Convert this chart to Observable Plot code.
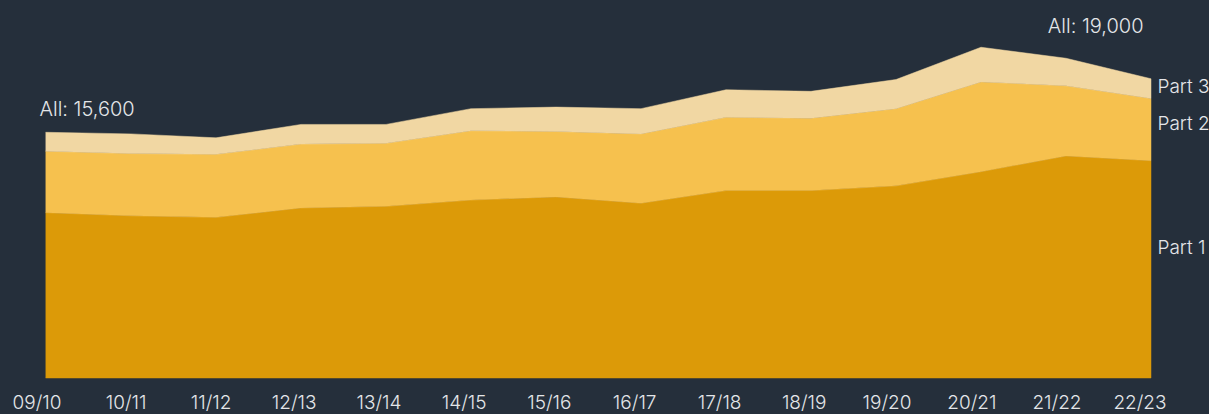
<!DOCTYPE html>
<html><head><meta charset="utf-8">
<script src="https://cdn.jsdelivr.net/npm/d3@7"></script>
<script src="https://cdn.jsdelivr.net/npm/@observablehq/plot@0.6"></script>
<style>
html,body{margin:0;padding:0;background:#252f3b;overflow:hidden;}
#chart svg{display:block;}
</style></head><body><div id="chart"></div>
<script>
const years = ["09/10","10/11","11/12","12/13","13/14","14/15","15/16","16/17","17/18","18/19","19/20","20/21","21/22","22/23"];
const part1 = [10500,10300,10200,10800,10900,11300,11500,11100,11900,11900,12200,13100,14100,13800];
const part2 = [3900,3950,4000,4050,4000,4400,4150,4400,4650,4600,4900,5700,4450,3950];
const part3 = [1200,1250,1050,1250,1200,1400,1550,1600,1750,1700,1850,2200,1750,1250];
const seriesNames = ["Part 1","Part 2","Part 3"];
const colors = ["#dc9a08","#f6c14e","#f1d7a3"];

const parts = [part1, part2, part3];
const rows = [];
years.forEach((yr, i) => parts.forEach((arr, j) => rows.push({year: yr, part: seriesNames[j], value: arr[i]})));
const totals = years.map((yr, i) => ({year: yr, total: part1[i] + part2[i] + part3[i]}));
const first = totals[0];
const last = totals[totals.length - 1];
const maxTotal = d3.max(totals, d => d.total);

const li = years.length - 1;
let base = 0;
const endLabels = seriesNames.map((n, j) => {
  const v = parts[j][li];
  const r = {year: years[li], part: n, y: base + 0.6 * v};
  base += v;
  return r;
});
const fmt = d3.format(",");

const chart = Plot.plot({
  width: 1209,
  height: 414,
  marginLeft: 45,
  marginRight: 58,
  marginTop: 0,
  marginBottom: 36,
  style: {background: "#252f3b", color: "#e4e6e9", fontFamily: "Inter, 'Open Sans', sans-serif", fontSize: "19px", fontWeight: 300},
  x: {type: "point", domain: years, padding: 0, label: null},
  y: {domain: [0, 24000], axis: null},
  color: {domain: seriesNames, range: colors},
  marks: [
    Plot.areaY(rows, {x: "year", y: "value", fill: "part", z: "part", stroke: "part", strokeWidth: 0.5}),
    Plot.axisX({tickSize: 0, tickPadding: 17, textAnchor: "end", dx: 15, fontSize: 19, label: null}),
    Plot.text(endLabels, {x: "year", y: "y", text: "part", textAnchor: "start", dx: 6, fontSize: 19}),
    Plot.text([first], {x: "year", y: "total", text: d => `All: ${fmt(d.total)}`, textAnchor: "start", lineAnchor: "bottom", dx: -7, dy: -17, fontSize: 20}),
    Plot.text([last], {x: "year", y: () => maxTotal, text: d => `All: ${fmt(d.total)}`, textAnchor: "end", lineAnchor: "bottom", dx: -8, dy: -15, fontSize: 20})
  ]
});
document.getElementById("chart").appendChild(chart);
</script>
</body></html>
